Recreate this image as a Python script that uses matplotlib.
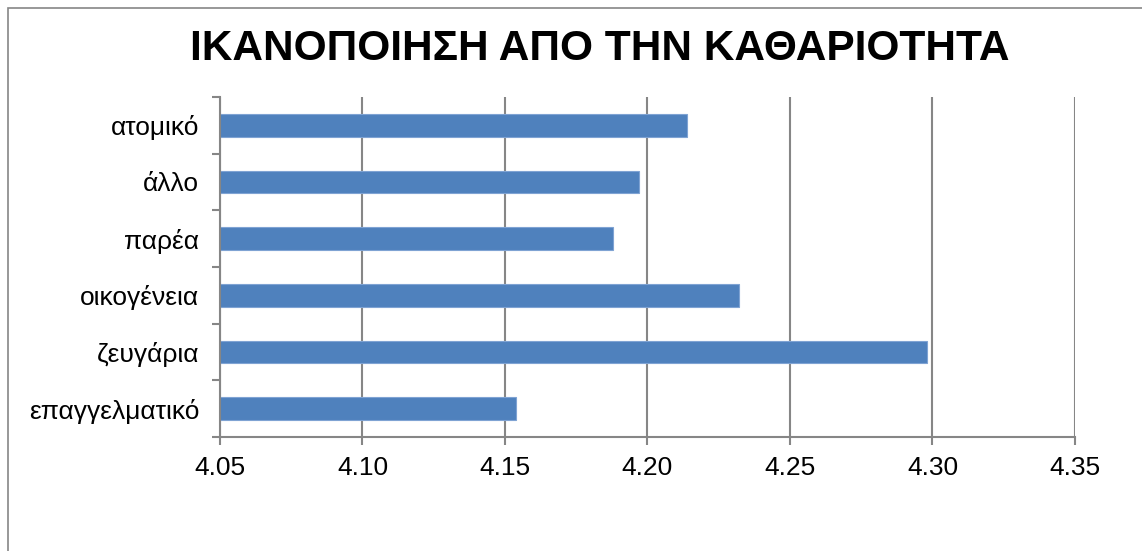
import matplotlib.pyplot as plt
from matplotlib.patches import Rectangle
from matplotlib.ticker import FixedLocator, MultipleLocator

plt.rcParams["font.family"] = ["Liberation Sans", "DejaVu Sans"]

# Mean satisfaction with cleanliness, per travel type (bottom to top)
categories = ["επαγγελματικό", "ζευγάρια", "οικογένεια", "παρέα", "άλλο", "ατομικό"]
scores = [4.154, 4.298, 4.232, 4.188, 4.197, 4.214]
title = "ΙΚΑΝΟΠΟΙΗΣΗ ΑΠΟ ΤΗΝ ΚΑΘΑΡΙΟΤΗΤΑ"

GRID = "#868686"
BAR = "#4F81BD"

fig = plt.figure(figsize=(11.42, 5.51), dpi=100)
ax = fig.add_axes([0.1926, 0.2069, 0.7487, 0.6171])

pos = list(range(len(categories)))
ax.barh(pos, scores, height=0.4, left=0, color=BAR,
        edgecolor="#7FA3D3", linewidth=0.8, zorder=3)

ax.set_xlim(4.05, 4.35)
ax.set_ylim(-0.5, len(categories) - 0.5)
ax.xaxis.set_major_locator(MultipleLocator(0.05))
ax.xaxis.set_major_formatter(plt.FuncFormatter(lambda v, _: f"{v:.2f}"))
ax.grid(axis="x", color=GRID, linewidth=1.5, zorder=1)

ax.set_yticks(pos)
ax.set_yticklabels(categories)
ax.yaxis.set_minor_locator(FixedLocator([p - 0.5 for p in pos] + [pos[-1] + 0.5]))
ax.tick_params(axis="y", which="major", length=0, pad=15, labelsize=19)
ax.tick_params(axis="y", which="minor", length=6, width=1.5, color=GRID)
ax.tick_params(axis="x", length=6, width=1.5, color=GRID, pad=8, labelsize=19)

for side in ("top", "right"):
    ax.spines[side].set_visible(False)
for side in ("left", "bottom"):
    ax.spines[side].set_color(GRID)
    ax.spines[side].set_linewidth(1.5)
    ax.spines[side].set_zorder(4)

fig.text(0.525, 0.911, title, ha="center", va="center",
         fontsize=30.5, fontweight="bold")

# chart frame, running off the right and bottom edges
fig.patches.append(Rectangle((8 / 1142, -0.1), 1.2, 1.1 - 8 / 551,
                             transform=fig.transFigure, fill=False,
                             edgecolor=GRID, linewidth=1.2))

fig.savefig("out.png", dpi=100)
